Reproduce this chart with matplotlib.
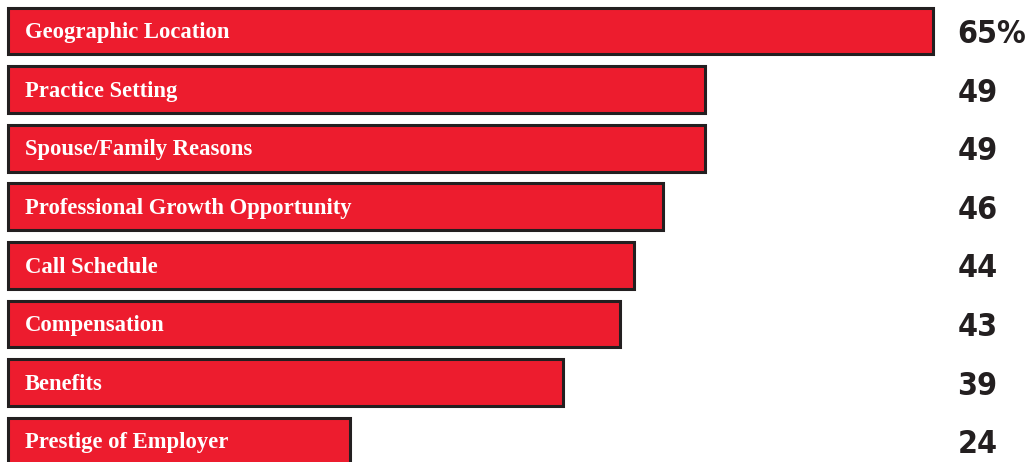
import matplotlib.pyplot as plt
import matplotlib.transforms as mtransforms

categories = ['Geographic Location', 'Practice Setting', 'Spouse/Family Reasons',
              'Professional Growth Opportunity', 'Call Schedule', 'Compensation',
              'Benefits', 'Prestige of Employer']
values = [65, 49, 49, 46, 44, 43, 39, 24]
value_labels = ['65%', '49', '49', '46', '44', '43', '39', '24']

red = '#ED1C2E'
dark = '#231F20'

fig = plt.figure(figsize=(10.34, 4.62), dpi=100)
ax = fig.add_axes([0, 0, 1, 1])

ypos = list(range(len(categories)))
ax.barh(ypos, values, height=0.8, left=0, color=red, edgecolor=dark, linewidth=2.2)

# bar labels inside, values at the right
trans = mtransforms.blended_transform_factory(ax.transAxes, ax.transData)
for i, (cat, lab) in enumerate(zip(categories, value_labels)):
    ax.text(1.2, i + 0.03, cat, color='white', fontsize=16.3, fontweight='bold',
            family='Liberation Serif', va='center', ha='left')
    ax.text(0.926, i + 0.06, lab, color=dark, fontsize=23, fontweight='bold',
            family='DejaVu Sans', fontstretch='condensed', va='center', ha='left',
            transform=trans)

ax.set_xlim(-0.56, 72.1)
ax.set_ylim(7.355, -0.529)
ax.axis('off')

fig.savefig('out.png', dpi=100)
